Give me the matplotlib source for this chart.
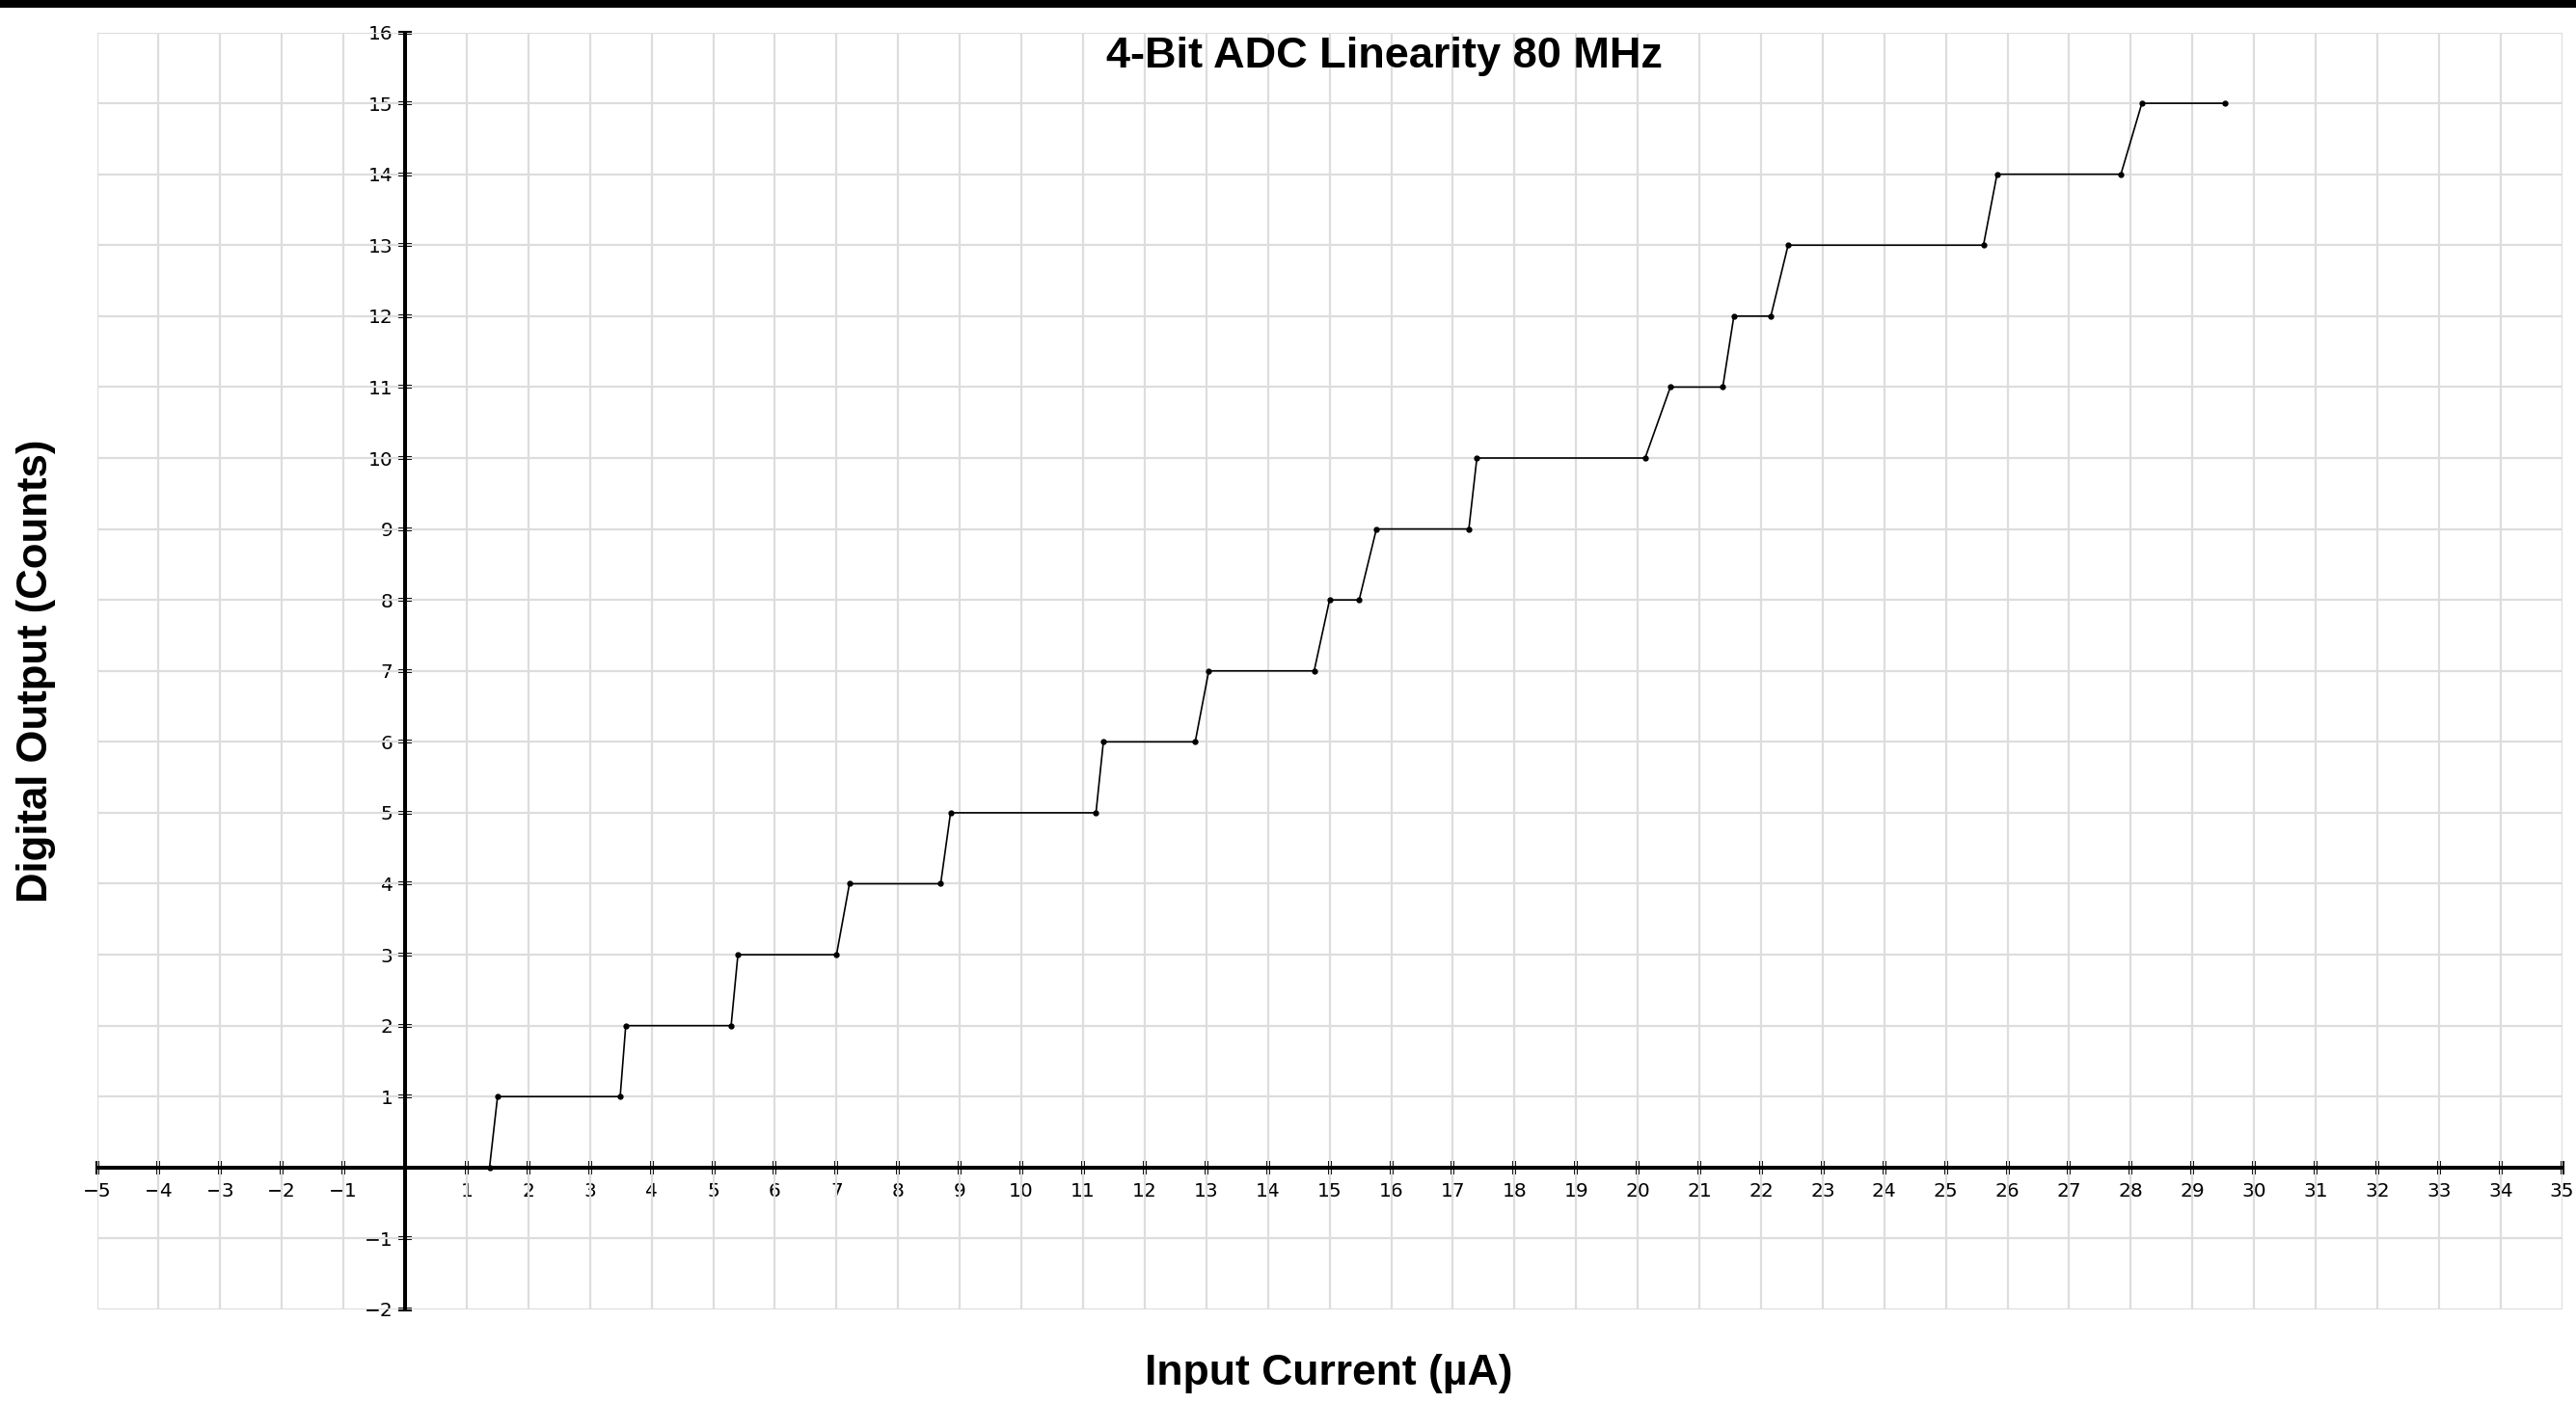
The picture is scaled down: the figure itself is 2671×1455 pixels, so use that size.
import numpy as np
import matplotlib
matplotlib.use("Agg")
import matplotlib.pyplot as plt
from matplotlib.patches import Rectangle

# ADC transfer curve (input current in uA, output counts)
current_ua = [1.37, 1.50, 3.49, 3.58, 5.29, 5.40, 7.00, 7.21, 8.69, 8.85,
              11.21, 11.33, 12.82, 13.04, 14.75, 15.00, 15.48, 15.76, 17.26, 17.39,
              20.12, 20.53, 21.38, 21.56, 22.16, 22.44, 25.61, 25.83, 27.84, 28.18,
              29.53]
counts = [0, 1, 1, 2, 2, 3, 3, 4, 4, 5,
          5, 6, 6, 7, 7, 8, 8, 9, 9, 10,
          10, 11, 11, 12, 12, 13, 13, 14, 14, 15,
          15]

x_ticks = [t for t in range(-5, 36) if t != 0]
y_ticks = [t for t in range(-2, 17) if t != 0]

title = "4-Bit ADC Linearity 80 MHz"
x_label = "Input Current (\u00b5A)"
y_label = "Digital Output (Counts)"

fig = plt.figure(figsize=(26.71, 14.55), dpi=100)
ax = fig.add_axes([0.03763, 0.06667, 0.95701, 0.9103])

ax.plot(current_ua, counts, color="black", linewidth=1.2, marker="o",
        markersize=3.5, zorder=3, clip_on=False)

ax.set_xlim(-5, 35)
ax.set_ylim(-2, 16)

# grid on every integer (minor ticks so the origin line is included)
ax.xaxis.remove_overlapping_locs = False
ax.yaxis.remove_overlapping_locs = False
ax.set_xticks(range(-5, 36), minor=True)
ax.set_yticks(range(-2, 17), minor=True)
ax.grid(which="minor", color="#dddddd", linewidth=1.6, zorder=0)
ax.grid(which="major", visible=False)
ax.tick_params(which="minor", length=0)
ax.set_axisbelow(True)

# axes crossing at the origin
for side in ["top", "right"]:
    ax.spines[side].set_visible(False)
ax.spines["left"].set_position(("data", 0))
ax.spines["bottom"].set_position(("data", 0))
ax.spines["left"].set_linewidth(2.9)
ax.spines["bottom"].set_linewidth(2.9)
ax.spines["left"].set_zorder(4)
ax.spines["bottom"].set_zorder(4)

ax.set_xticks(x_ticks)
ax.set_yticks(y_ticks)
ax.tick_params(axis="both", which="major", direction="inout", length=10,
               width=2.9, labelsize=14.5, colors="black")
ax.tick_params(axis="x", pad=6)
ax.tick_params(axis="y", pad=4)

fig.text(0.5376, 0.9601, title, fontsize=32.5, fontweight="bold",
         family="Liberation Sans", ha="center", va="center")
fig.text(0.5159, 0.0213, x_label, fontsize=32, fontweight="bold",
         family="Liberation Sans", ha="center", va="center")
fig.text(0.0139, 0.5216, y_label, fontsize=31.5, fontweight="bold",
         family="Liberation Sans", ha="center", va="center", rotation=90)

# black strip along the top edge
fig.patches.append(Rectangle((0, 1 - 8 / 1455), 1, 8 / 1455, transform=fig.transFigure,
                             facecolor="black", edgecolor="none"))

fig.savefig("out.png", dpi=100)
